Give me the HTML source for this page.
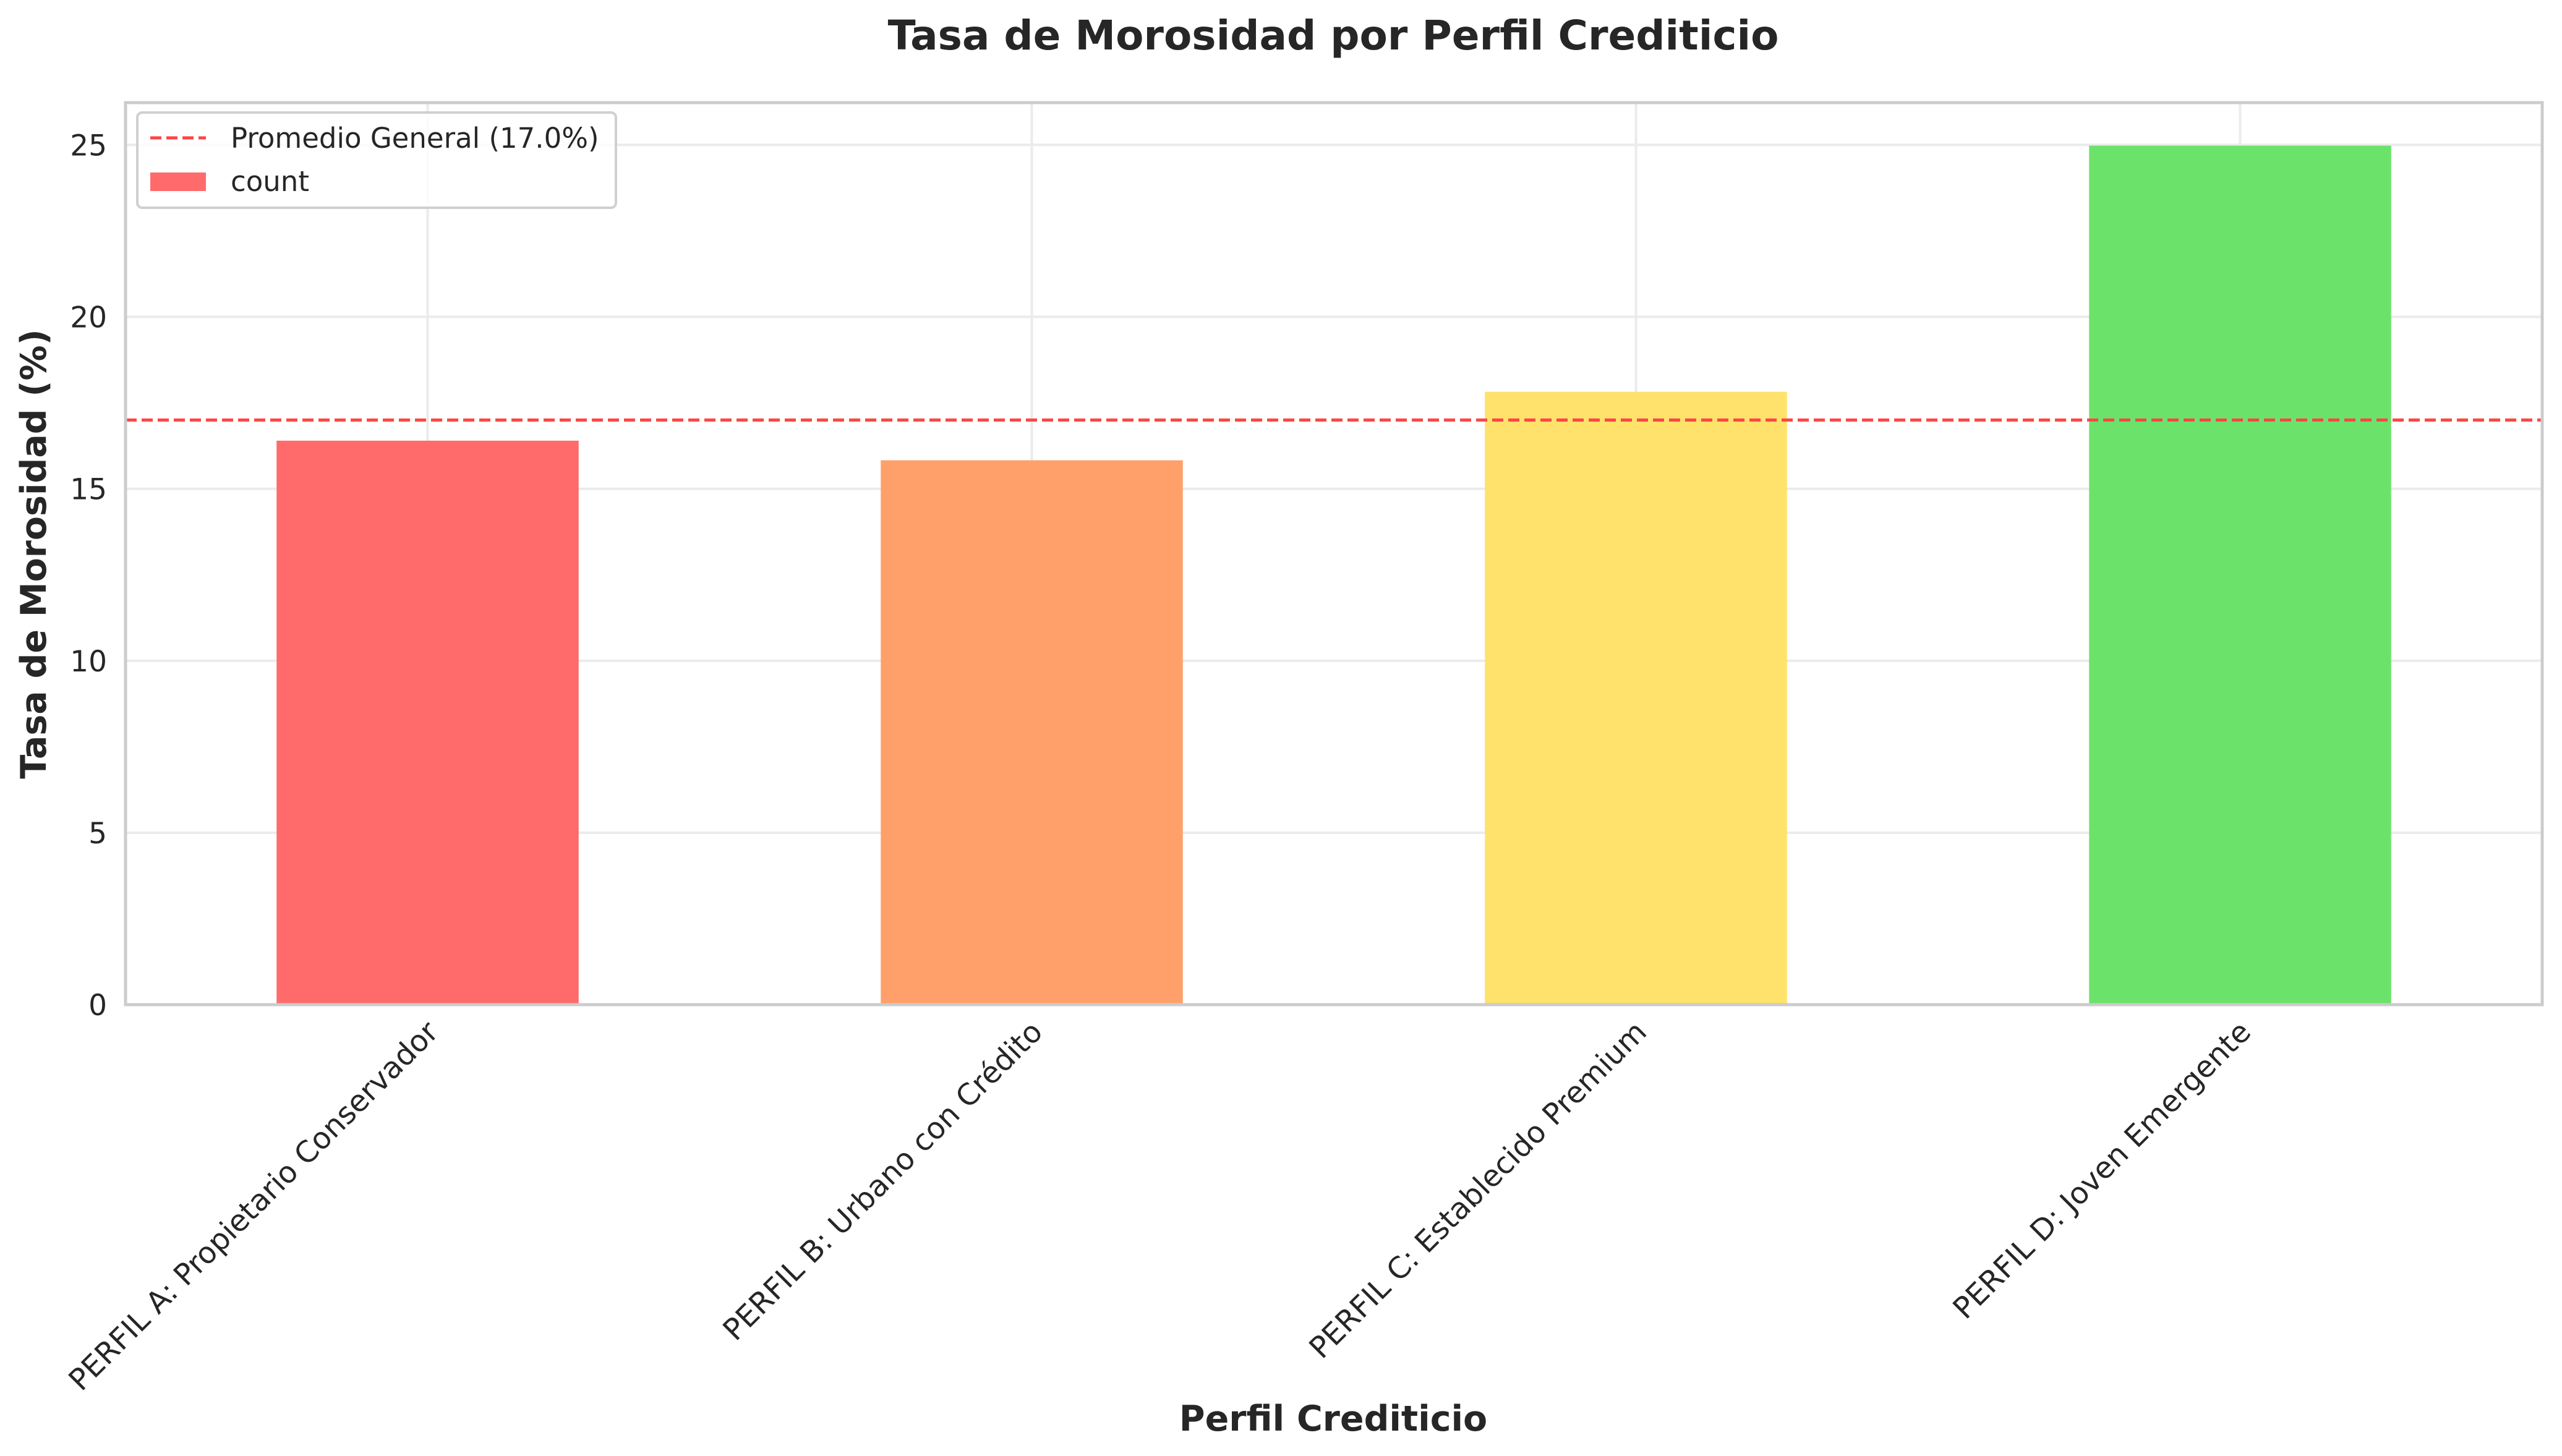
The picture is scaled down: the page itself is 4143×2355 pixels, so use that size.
<!DOCTYPE html>
<html><head><meta charset="utf-8"><style>
html,body{margin:0;padding:0;background:#fff}
svg{display:block;font-family:"DejaVu Sans","Liberation Sans",sans-serif}
</style></head><body>
<svg id="chart" width="4143" height="2355" viewBox="0 0 4143 2355">
<text x="2156" y="80" text-anchor="middle" font-size="66" font-weight="bold" fill="#262626">Tasa de Morosidad por Perfil Crediticio</text>
<g id="grid"></g>
<g id="bars"></g>
<g id="avg"></g>
<rect x="203" y="166" width="3908" height="1459" fill="none" stroke="#cccccc" stroke-width="5"/>
<g id="yticks"></g>
<g id="xticks"></g>
<text transform="translate(74,896) rotate(-90)" text-anchor="middle" font-size="57" font-weight="bold" fill="#262626">Tasa de Morosidad (%)</text>
<text x="2156" y="2314" text-anchor="middle" font-size="57" font-weight="bold" fill="#262626">Perfil Crediticio</text>
<g>
<rect x="222" y="182" width="774" height="154" rx="8" fill="#fff" fill-opacity="0.8" stroke="#d0d0d0" stroke-width="4"/>
<line x1="243" y1="223" x2="333" y2="223" stroke="#ff4444" stroke-width="5" stroke-dasharray="18,8"/>
<text x="373" y="239" font-size="45" fill="#262626">Promedio General (17.0%)</text>
<rect x="243" y="279" width="90" height="30" fill="#ff6b6b"/>
<text x="373" y="309" font-size="45" fill="#262626">count</text>
</g>
</svg>
<script>
const categories = ["PERFIL A: Propietario Conservador","PERFIL B: Urbano con Crédito","PERFIL C: Establecido Premium","PERFIL D: Joven Emergente"];
const values = [16.4, 15.83, 17.82, 24.98];
const barColors = ["#ff6b6b","#ffa06b","#ffe26b","#6be36b"];
const average = 17.0;
const yTicks = [0,5,10,15,20,25];

const NS="http://www.w3.org/2000/svg";
const L=203,R=4111,T=166,B=1625;
const yMax=26.23;
function y(v){return B-(v/yMax)*(B-T);}
const bw=(R-L)/categories.length;
function xc(i){return L+bw*(i+0.5);}
function mk(tag,attrs,parent){const e=document.createElementNS(NS,tag);for(const k in attrs)e.setAttribute(k,attrs[k]);parent.appendChild(e);return e;}
const grid=document.getElementById('grid'),bars=document.getElementById('bars'),avg=document.getElementById('avg'),yt=document.getElementById('yticks'),xt=document.getElementById('xticks');
yTicks.forEach(t=>{
 const g=mk('line',{x1:L,x2:R,y1:y(t),y2:y(t),stroke:'#ebebeb','stroke-width':4},grid);
 
 
 const tx=mk('text',{x:L-30,y:y(t)+17,'text-anchor':'end','font-size':47,fill:'#262626'},yt);
 tx.textContent=t;
 
 
});
categories.forEach((c,i)=>{
 const g=mk('line',{x1:xc(i),x2:xc(i),y1:T,y2:B,stroke:'#ebebeb','stroke-width':4},grid);
 
 
 const w=bw*0.5;
 const r=mk('rect',{x:xc(i)-w/2,y:y(values[i]),width:w,height:B-y(values[i]),fill:barColors[i]},bars);
 
 
 const ax=xc(i)+20,ay=1672;
 const tx=mk('text',{x:ax,y:ay,'text-anchor':'end','font-size':48,fill:'#262626',transform:`rotate(-45 ${ax} ${ay})`},xt);
 tx.textContent=c;
 
 
});
const al=mk('line',{x1:L,x2:R,y1:y(average),y2:y(average),stroke:'#ff4444','stroke-width':5,'stroke-dasharray':'18,8'},avg);


</script>
</body></html>
